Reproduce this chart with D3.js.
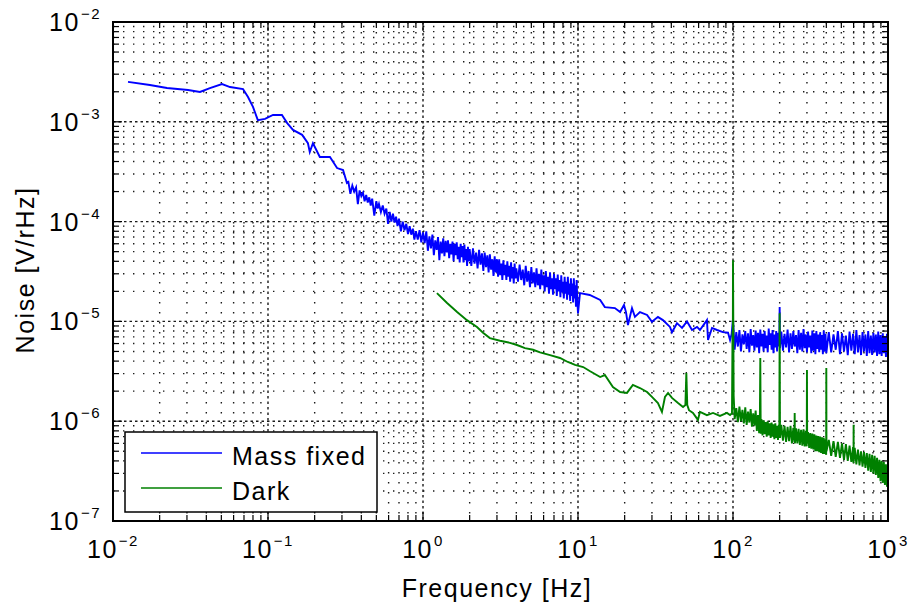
<!DOCTYPE html>
<html><head><meta charset="utf-8">
<script src="https://cdn.jsdelivr.net/npm/d3@7"></script>
<style>
body{margin:0;background:#fff}
svg{display:block}
text{font-family:"Liberation Sans",Arial,Helvetica,sans-serif;fill:#000;letter-spacing:1.5px}
</style>
</head><body>
<svg id="chart" width="916" height="604"></svg>
<script>
// ---- data ----
const xTickExponents = [-2, -1, 0, 1, 2, 3];
const yTickExponents = [-7, -6, -5, -4, -3, -2];
const xLabel = "Frequency [Hz]";
const yLabel = "Noise [V/rHz]";
const legendLabels = ["Mass fixed", "Dark"];
const seriesColors = ["#0000ff", "#008000"];

// [frequency Hz, noise V/rHz]
const massFixed = [
[0.0125,2.51e-3],[0.0173,2.34e-3],[0.0223,2.18e-3],[0.0305,2.08e-3],[0.0364,1.99e-3],[0.0422,2.18e-3],[0.0505,2.39e-3],[0.0569,2.23e-3],[0.069,2.13e-3],[0.0743,1.77e-3],[0.080,1.41e-3],[0.086,1.04e-3],[0.0957,1.07e-3],[0.1077,1.17e-3],[0.123,1.17e-3],[0.133,9.7e-4],[0.145,8.3e-4],[0.166,7.4e-4],[0.181,6.1e-4],[0.186,4.98e-4],[0.195,6.1e-4],[0.216,4.44e-4],[0.251,4.44e-4],[0.279,3.44e-4],[0.305,3.29e-4],[0.323,2.44e-4],
[0.33,2.5e-4],[0.34,1.9e-4],[0.35,2.3e-4],[0.36,2.0e-4],[0.37,2.2e-4],[0.38,1.5e-4],[0.39,2.05e-4],[0.40,1.8e-4],[0.41,1.95e-4],[0.42,1.6e-4],[0.43,1.85e-4],[0.44,1.55e-4],[0.45,1.75e-4],[0.46,1.45e-4],[0.47,1.7e-4],[0.485,1.15e-4],[0.50,1.6e-4],[0.51,1.35e-4],[0.52,1.5e-4],[0.535,1.25e-4],[0.55,1.45e-4],[0.565,1.2e-4],[0.58,1.35e-4],[0.595,9.5e-5],[0.61,1.25e-4],[0.625,1.0e-4],[0.64,1.2e-4],[0.655,9.8e-5],[0.67,1.12e-4],[0.685,9.0e-5],[0.70,1.07e-4],[0.72,8.0e-5],[0.74,1.0e-4],[0.76,8.2e-5],[0.78,9.5e-5],[0.80,7.5e-5],[0.82,9.0e-5],[0.84,7.4e-5],[0.86,8.5e-5],[0.88,6.6e-5],[0.90,8.0e-5],[0.925,6.6e-5],[0.95,8.2e-5],[0.975,6.2e-5],[1.0,7.8e-5],
[1.025,6.1e-5],[1.05,8.0e-5],[1.075,5.1e-5],[1.10,7.1e-5],[1.125,5.4e-5],[1.15,7.4e-5],[1.175,4.6e-5],[1.20,6.5e-5],[1.225,5.2e-5],[1.25,7.0e-5],[1.275,4.1e-5],[1.30,6.3e-5],[1.325,4.8e-5],[1.35,6.8e-5],[1.375,4.5e-5],[1.40,6.4e-5],[1.425,4.9e-5],[1.45,6.5e-5],[1.475,4.3e-5],[1.50,6.0e-5],[1.525,4.7e-5],[1.55,6.3e-5],[1.575,4.0e-5],[1.60,6.0e-5],[1.625,4.6e-5],[1.65,6.2e-5],[1.675,4.2e-5],[1.70,5.6e-5],[1.725,3.9e-5],[1.75,6.0e-5],[1.775,4.4e-5],[1.80,5.7e-5],[1.825,3.9e-5],[1.85,5.9e-5],[1.875,4.1e-5],[1.90,5.3e-5],[1.925,3.6e-5],[1.95,5.6e-5],[1.975,4.0e-5],[2.0,5.3e-5],
[2.05,3.6e-5],[2.1,5.4e-5],[2.15,3.8e-5],[2.2,4.9e-5],[2.25,3.4e-5],[2.3,5.2e-5],[2.35,3.7e-5],[2.4,4.8e-5],[2.45,3.2e-5],[2.5,4.9e-5],[2.55,3.5e-5],[2.6,4.6e-5],[2.65,3.1e-5],[2.7,4.7e-5],[2.75,3.3e-5],[2.8,4.2e-5],[2.85,2.85e-5],[2.9,4.5e-5],[2.95,3.1e-5],[3.0,4.2e-5],[3.05,2.8e-5],[3.1,4.2e-5],[3.15,2.9e-5],[3.2,3.8e-5],[3.25,2.6e-5],[3.3,4.1e-5],[3.35,2.9e-5],[3.4,3.7e-5],[3.45,2.6e-5],[3.5,4.0e-5],[3.55,2.8e-5],[3.6,3.6e-5],[3.65,2.5e-5],[3.7,3.9e-5],[3.75,2.7e-5],[3.8,3.5e-5],[3.85,2.4e-5],[3.9,3.8e-5],[3.95,2.7e-5],[4.0,3.4e-5],
[4.1,2.5e-5],[4.2,3.7e-5],[4.3,2.6e-5],[4.4,3.3e-5],[4.5,2.3e-5],[4.6,3.6e-5],[4.7,2.5e-5],[4.8,3.2e-5],[4.9,2.2e-5],[5.0,3.5e-5],[5.1,2.4e-5],[5.2,3.1e-5],[5.3,2.2e-5],[5.4,3.4e-5],[5.5,2.3e-5],[5.6,3.0e-5],[5.7,2.1e-5],[5.8,3.3e-5],[5.9,2.3e-5],[6.0,2.9e-5],[6.1,2.0e-5],[6.2,3.2e-5],[6.3,2.2e-5],[6.4,2.8e-5],[6.5,1.9e-5],[6.6,3.1e-5],[6.7,2.1e-5],[6.8,2.7e-5],[6.9,1.85e-5],[7.0,3.0e-5],[7.1,2.1e-5],[7.2,2.7e-5],[7.3,1.8e-5],[7.4,2.95e-5],[7.5,2.0e-5],[7.6,2.6e-5],[7.7,1.75e-5],[7.8,2.9e-5],[7.9,1.95e-5],[8.0,2.5e-5],[8.1,1.7e-5],[8.2,2.8e-5],[8.3,1.9e-5],[8.4,2.5e-5],[8.5,1.65e-5],[8.6,2.8e-5],[8.7,1.85e-5],[8.8,2.4e-5],[8.9,1.6e-5],[9.0,2.7e-5],[9.1,1.8e-5],[9.2,2.4e-5],[9.3,1.55e-5],[9.4,2.7e-5],[9.5,1.7e-5],[9.6,2.3e-5],[9.7,1.4e-5],[9.8,2.6e-5],[9.9,1.6e-5],[10.0,1.2e-5],
[10.3,1.92e-5],[11.9,1.84e-5],[13.9,1.64e-5],[14.9,1.39e-5],[17.3,1.36e-5],[18.7,1.24e-5],[19.8,1.46e-5],[20.4,1.24e-5],[21.0,9.2e-6],[22.3,1.36e-5],[23.3,1.11e-5],[25.1,1.24e-5],[27.9,1.16e-5],[30.0,9.9e-6],[32.8,1.11e-5],[35.3,1.03e-5],[39.2,8.8e-6],[40.4,7.8e-6],[43.5,9.6e-6],[46.9,8.6e-6],[50.5,1.0e-5],[54.4,8.2e-6],[58.6,8.8e-6],[61.2,8.2e-6],[67.9,1.03e-5],[69.0,6.5e-6],[73.2,8.6e-6],[78.9,8.2e-6],[86.1,7.8e-6],[92.9,7.7e-6],[95.7,6.5e-6],[98,7.5e-6],
[100,1.05e-5],[102.5,5.2e-6],[105,7.8e-6],[107.5,5.6e-6],[110,8.2e-6],[112.5,5.0e-6],[115,7.4e-6],[117.5,5.9e-6],[120,8.0e-6],[122.5,5.3e-6],[125,7.6e-6],[127.5,4.9e-6],[130,8.4e-6],[132.5,5.7e-6],[135,7.3e-6],[137.5,5.1e-6],[140,8.1e-6],[142.5,5.5e-6],[145,7.7e-6],[147.5,4.8e-6],[150,8.3e-6],[152.5,5.6e-6],[155,7.5e-6],[157.5,5.0e-6],[160,8.0e-6],[162.5,5.4e-6],[165,7.2e-6],[167.5,4.9e-6],[170,8.5e-6],[172.5,5.8e-6],[175,7.6e-6],[177.5,5.2e-6],[180,8.2e-6],[182.5,4.8e-6],[185,7.4e-6],[187.5,5.5e-6],[190,8.0e-6],[192.5,5.0e-6],[195,7.7e-6],[197.5,5.6e-6],[199,6.5e-6],[200,1.39e-5],[201,5.4e-6],
[205,7.9e-6],[210,5.1e-6],[215,7.5e-6],[220,5.5e-6],[225,8.3e-6],[230,4.9e-6],[235,7.6e-6],[240,5.3e-6],[245,8.0e-6],[250,5.6e-6],[255,7.3e-6],[260,4.8e-6],[265,8.2e-6],[270,5.2e-6],[275,7.7e-6],[280,5.0e-6],[285,8.4e-6],[290,5.4e-6],[295,7.4e-6],[300,4.9e-6],[305,7.9e-6],[310,5.5e-6],[315,7.2e-6],[320,4.8e-6],[325,8.1e-6],[330,5.1e-6],[335,7.6e-6],[340,4.7e-6],[345,8.0e-6],[350,5.3e-6],[355,7.4e-6],[360,4.9e-6],[365,7.8e-6],[370,5.2e-6],[375,7.3e-6],[380,4.7e-6],[385,8.1e-6],[390,5.0e-6],[395,7.5e-6],[400,4.8e-6],
[415,7.8e-6],[430,4.9e-6],[445,7.4e-6],[460,5.2e-6],[475,8.0e-6],[490,4.7e-6],[505,7.6e-6],[520,5.0e-6],[535,7.2e-6],[550,4.6e-6],[565,7.9e-6],[580,5.1e-6],[595,7.5e-6],[610,4.7e-6],[625,8.2e-6],[640,4.9e-6],[655,7.3e-6],[670,4.6e-6],[685,7.8e-6],[700,5.0e-6],[715,7.4e-6],[730,4.5e-6],[745,8.0e-6],[760,4.8e-6],[775,7.2e-6],[790,4.6e-6],[805,7.7e-6],[820,4.9e-6],[835,7.4e-6],[850,4.5e-6],[865,7.9e-6],[880,4.7e-6],[895,7.3e-6],[910,4.5e-6],[925,7.6e-6],[940,4.8e-6],[955,7.1e-6],[970,4.4e-6],[985,7.5e-6],[1000,5.5e-6]
];

const dark = [
[1.23,1.92e-5],[1.43,1.53e-5],[1.66,1.24e-5],[1.92,1.03e-5],[2.23,8.8e-6],[2.44,7.7e-6],[2.70,6.8e-6],[3.14,6.4e-6],[3.64,6.1e-6],[4.04,5.8e-6],[4.55,5.4e-6],[5.13,5.2e-6],[5.69,4.9e-6],[6.6,4.6e-6],[7.65,4.3e-6],[8.6,3.92e-6],[9.57,3.66e-6],[10.8,3.49e-6],[11.9,3.18e-6],[13.9,2.77e-6],[14.9,2.9e-6],[16.8,2.2e-6],[18.7,1.96e-6],[20.7,1.92e-6],[22.6,2.31e-6],[25.1,2.15e-6],[27.9,1.96e-6],[30.0,1.75e-6],[32.8,1.52e-6],[34.8,1.24e-6],[36.4,1.75e-6],[38.1,1.92e-6],[40.4,1.71e-6],[44.2,1.52e-6],[47.6,1.39e-6],[49.3,1.45e-6],[50,3.04e-6],[50.7,1.45e-6],[52.0,1.29e-6],[55.2,1.21e-6],[59.4,1.03e-6],[61.2,1.24e-6],[67.9,1.15e-6],[74.3,1.21e-6],[82.4,1.13e-6],[91.4,1.21e-6],[95.7,1.15e-6],[98.5,1.2e-6],[99.3,8.0e-6],[99.6,2.2e-6],
[100,4.1e-5],[101,1.8e-6],[102.5,1.05e-6],[105,1.35e-6],[107.5,0.98e-6],[110,1.4e-6],[112.5,1.0e-6],[115,1.3e-6],[117.5,0.95e-6],[120,1.38e-6],[122.5,0.92e-6],[125,1.25e-6],[127.5,0.97e-6],[130,1.32e-6],[132.5,0.88e-6],[135,1.2e-6],[137.5,0.9e-6],[140,1.28e-6],[142.5,0.8e-6],[145,1.15e-6],[147.5,0.76e-6],[149,1.0e-6],[150,4.3e-6],[151,0.75e-6],[152.5,1.05e-6],[155,0.72e-6],[157.5,1.02e-6],[160,0.74e-6],[162.5,0.98e-6],[165,0.7e-6],[167.5,1.0e-6],[170,0.72e-6],[172.5,0.95e-6],[175,0.68e-6],[177.5,0.97e-6],[180,0.7e-6],[182.5,0.93e-6],[185,0.66e-6],[187.5,0.95e-6],[190,0.68e-6],[192.5,0.9e-6],[195,0.65e-6],[197.5,0.92e-6],[199,0.7e-6],[200,1.21e-5],[201,0.68e-6],
[205,0.92e-6],[210,0.64e-6],[215,0.9e-6],[220,0.62e-6],[225,0.88e-6],[230,0.63e-6],[235,0.9e-6],[240,0.6e-6],[245,0.86e-6],[249,0.62e-6],[250,1.21e-6],[251,0.6e-6],[255,0.85e-6],[260,0.6e-6],[265,0.84e-6],[270,0.58e-6],[275,0.82e-6],[280,0.57e-6],[285,0.83e-6],[290,0.56e-6],[295,0.8e-6],[299,0.56e-6],[300,3.26e-6],[301,0.6e-6],[305,0.78e-6],[310,0.54e-6],[315,0.76e-6],[320,0.53e-6],[325,0.75e-6],[330,0.52e-6],[335,0.74e-6],[340,0.5e-6],[345,0.72e-6],[350,0.5e-6],[355,0.71e-6],[360,0.49e-6],[365,0.7e-6],[370,0.48e-6],[375,0.69e-6],[380,0.47e-6],[385,0.68e-6],[390,0.47e-6],[395,0.66e-6],[399,0.46e-6],[400,3.41e-6],[401,0.5e-6],
[415,0.65e-6],[430,0.45e-6],[445,0.63e-6],[460,0.44e-6],[475,0.62e-6],[490,0.43e-6],[505,0.6e-6],[520,0.41e-6],[535,0.59e-6],[550,0.4e-6],[565,0.57e-6],[580,0.39e-6],[595,0.55e-6],[599,0.38e-6],[600,0.92e-6],[601,0.4e-6],[610,0.54e-6],[625,0.37e-6],[640,0.52e-6],[655,0.36e-6],[670,0.5e-6],[685,0.35e-6],[700,0.49e-6],[715,0.34e-6],[730,0.48e-6],[745,0.32e-6],[760,0.47e-6],[775,0.31e-6],[790,0.46e-6],[805,0.3e-6],[820,0.45e-6],[835,0.29e-6],[850,0.43e-6],[865,0.27e-6],[880,0.41e-6],[895,0.25e-6],[910,0.4e-6],[925,0.24e-6],[940,0.39e-6],[955,0.23e-6],[970,0.37e-6],[985,0.22e-6],[1000,0.3e-6]
];

// ---- layout ----
const svg = d3.select("#chart");
const pL = 113, pR = 888, pT = 22, pB = 521;
const x = d3.scaleLog().domain([1e-2, 1e3]).range([pL, pR]);
const y = d3.scaleLog().domain([1e-7, 1e-2]).range([pB, pT]);

svg.append("rect").attr("width", 916).attr("height", 604).attr("fill", "#fff");

function ticksFor(exps) {
  const major = [], minor = [];
  for (let i = 0; i < exps.length; i++) {
    const base = Math.pow(10, exps[i]);
    major.push(base);
    if (i < exps.length - 1) for (let k = 2; k <= 9; k++) minor.push(k * base);
  }
  return {major, minor};
}
const xt = ticksFor(xTickExponents), yt = ticksFor(yTickExponents);

// grid
const grid = svg.append("g").attr("stroke", "#1a1a1a").attr("fill", "none");
function vLines(vals, dash) {
  grid.append("g").selectAll("line").data(vals).join("line")
    .attr("x1", d => x(d)).attr("x2", d => x(d)).attr("y1", pT).attr("y2", pB)
    .attr("stroke-width", 1.4).attr("stroke-dasharray", dash);
}
function hLines(vals, dash) {
  grid.append("g").selectAll("line").data(vals).join("line")
    .attr("y1", d => y(d)).attr("y2", d => y(d)).attr("x1", pL).attr("x2", pR)
    .attr("stroke-width", 1.4).attr("stroke-dasharray", dash);
}
vLines(xt.minor, "1.4,8.6");
hLines(yt.minor, "1.4,8.6");
vLines(xt.major.slice(1, -1), "2.5,3");
hLines(yt.major.slice(1, -1), "2.5,3");

// series
const line = d3.line().x(d => x(d[0])).y(d => y(d[1]));
[massFixed, dark].forEach((s, i) => {
  svg.append("path").datum(s).attr("d", line).attr("fill", "none")
    .attr("stroke", seriesColors[i]).attr("stroke-width", 1.9).attr("stroke-linejoin", "miter");
});

// ticks (inside, all four sides)
const tk = svg.append("g").attr("stroke", "#000").attr("stroke-width", 1.2);
const allX = xt.major.map(v => [v, 9]).concat(xt.minor.map(v => [v, 6]));
const allY = yt.major.map(v => [v, 9]).concat(yt.minor.map(v => [v, 6]));
allX.forEach(([v, L]) => {
  tk.append("line").attr("x1", x(v)).attr("x2", x(v)).attr("y1", pB).attr("y2", pB - L);
  tk.append("line").attr("x1", x(v)).attr("x2", x(v)).attr("y1", pT).attr("y2", pT + L);
});
allY.forEach(([v, L]) => {
  tk.append("line").attr("y1", y(v)).attr("y2", y(v)).attr("x1", pL).attr("x2", pL + L);
  tk.append("line").attr("y1", y(v)).attr("y2", y(v)).attr("x1", pR).attr("x2", pR - L);
});

// frame
svg.append("rect").attr("x", pL).attr("y", pT).attr("width", pR - pL).attr("height", pB - pT)
  .attr("fill", "none").attr("stroke", "#000").attr("stroke-width", 2);

// tick labels
function expText(e) { return e < 0 ? "\u2212" + Math.abs(e) : String(e); }
xTickExponents.forEach(e => {
  const t = svg.append("text").attr("x", x(Math.pow(10, e))).attr("y", 558)
    .attr("text-anchor", "middle").attr("font-size", 25);
  t.append("tspan").text("10");
  t.append("tspan").attr("font-size", 15).attr("dy", -12).attr("dx", 1).text(expText(e));
});
yTickExponents.forEach(e => {
  const t = svg.append("text").attr("x", 101).attr("y", y(Math.pow(10, e)) + 9)
    .attr("text-anchor", "end").attr("font-size", 25);
  t.append("tspan").text("10");
  t.append("tspan").attr("font-size", 15).attr("dy", -12).attr("dx", 1).text(expText(e));
});

// axis labels
svg.append("text").attr("x", 497).attr("y", 597).attr("text-anchor", "middle").attr("font-size", 25).text(xLabel);
svg.append("text").attr("transform", "translate(34,270) rotate(-90)").attr("text-anchor", "middle").attr("font-size", 25).text(yLabel);

// legend
const lg = svg.append("g");
lg.append("rect").attr("x", 125).attr("y", 432).attr("width", 252).attr("height", 80)
  .attr("fill", "#fff").attr("stroke", "#000").attr("stroke-width", 1.5);
legendLabels.forEach((lab, i) => {
  const yy = 453 + i * 35;
  lg.append("line").attr("x1", 141).attr("x2", 222).attr("y1", yy).attr("y2", yy)
    .attr("stroke", seriesColors[i]).attr("stroke-width", 1.5);
  lg.append("text").attr("x", 232).attr("y", yy + 12).attr("font-size", 25).text(lab);
});
</script>
</body></html>
